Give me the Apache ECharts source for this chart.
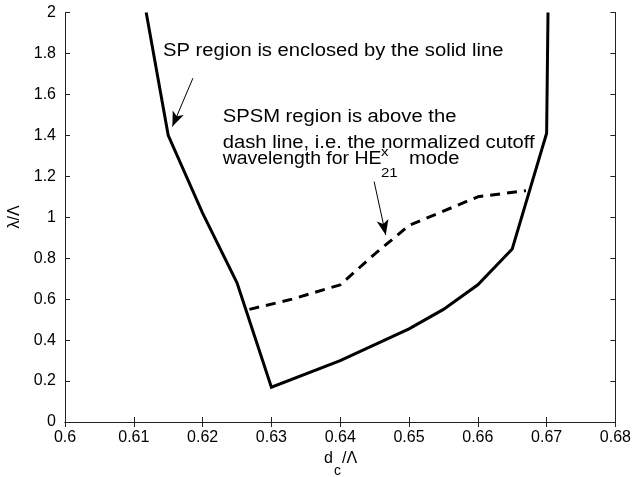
<!DOCTYPE html>
<html>
<head>
<meta charset="utf-8">
<script src="https://cdn.jsdelivr.net/npm/echarts@6/dist/echarts.min.js"></script>
<style>html,body{margin:0;padding:0;background:#fff;}#c{width:634px;height:477px;}</style>
</head>
<body>
<div id="c"></div>
<script>
// ---- data ----
const spX = [0.6118, 0.615, 0.62, 0.625, 0.63, 0.64, 0.65, 0.655, 0.66, 0.665, 0.67, 0.6702];
const spY = [2.0, 1.4, 1.02, 0.68, 0.17, 0.30, 0.455, 0.55, 0.67, 0.845, 1.41, 2.0];
const spsmX = [0.6268, 0.633, 0.64, 0.645, 0.65, 0.655, 0.66, 0.667];
const spsmY = [0.55, 0.60, 0.67, 0.82, 0.96, 1.03, 1.10, 1.13];
const xTicks = [0.6, 0.61, 0.62, 0.63, 0.64, 0.65, 0.66, 0.67, 0.68];
const yTicks = [0, 0.2, 0.4, 0.6, 0.8, 1, 1.2, 1.4, 1.6, 1.8, 2];
// annotation arrows: [fromX, fromY, toX, toY] in data units
const arrow1 = [0.61859, 1.679, 0.61561, 1.443];
const arrow2 = [0.64493, 1.174, 0.64662, 0.9135];
const note1 = 'SP region is enclosed by the solid line';
const note2 = ['SPSM region is above the', 'dash line, i.e. the normalized cutoff', 'wavelength for HE'];

const FONT = '"Liberation Sans", Arial, Helvetica, sans-serif';
const chart = echarts.init(document.getElementById('c'), null, {renderer: 'canvas'});

const axisCommon = {
  type: 'value',
  axisLine: {show: true, lineStyle: {color: '#222', width: 1}},
  axisTick: {show: true, inside: true, length: 5, lineStyle: {color: '#222', width: 1}},
  splitLine: {show: false}
};

function pairs(xs, ys) { return xs.map((x, i) => [x, ys[i]]); }
function arrowData(a) { return [[{coord: [a[0], a[1]]}, {coord: [a[2], a[3]]}]]; }

const SX = 1.155, FS = 17.5;
function txt(text, x, y, fs, sx) {
  return {
    type: 'text', x: x, y: y, scaleX: sx || SX, z: 100,
    style: {text: text, fontSize: fs, fontFamily: FONT, fill: '#000', align: 'left', verticalAlign: 'middle'}
  };
}

chart.setOption({
  animation: false,
  backgroundColor: '#fff',
  grid: {left: 65, right: 17, top: 12.5, bottom: 55, containLabel: false},
  xAxis: [
    Object.assign({}, axisCommon, {
      position: 'bottom', min: xTicks[0], max: xTicks[xTicks.length - 1], interval: 0.01,
      axisLabel: {show: true, margin: 8, fontSize: 16, color: '#000', fontFamily: FONT,
        formatter: v => String(+(+v).toFixed(2))}
    }),
    Object.assign({}, axisCommon, {
      position: 'top', min: xTicks[0], max: xTicks[xTicks.length - 1], interval: 0.01,
      axisLabel: {show: false}
    })
  ],
  yAxis: [
    Object.assign({}, axisCommon, {
      position: 'left', min: yTicks[0], max: yTicks[yTicks.length - 1], interval: 0.2,
      axisLabel: {show: true, margin: 9, fontSize: 16, color: '#000', fontFamily: FONT,
        formatter: v => String(+(+v).toFixed(1))}
    }),
    Object.assign({}, axisCommon, {
      position: 'right', min: yTicks[0], max: yTicks[yTicks.length - 1], interval: 0.2,
      axisLabel: {show: false}
    })
  ],
  series: [
    {
      type: 'line', name: 'SP', data: pairs(spX, spY), showSymbol: false, symbol: 'none',
      lineStyle: {color: '#000', width: 3, type: 'solid', join: 'miter'}, z: 3,
      markLine: {
        silent: true, symbol: ['none', 'arrow'], symbolSize: [9, 15],
        lineStyle: {color: '#000', width: 1, type: 'solid'}, label: {show: false},
        data: arrowData(arrow1).concat(arrowData(arrow2))
      }
    },
    {
      type: 'line', name: 'SPSM', data: pairs(spsmX, spsmY), showSymbol: false, symbol: 'none',
      lineStyle: {color: '#000', width: 3, type: [10, 7]}, z: 3
    }
  ],
  graphic: [
    txt(note1, 163, 51, FS),
    txt(note2[0], 222.7, 117.5, FS),
    txt(note2[1], 222.7, 142.8, FS),
    txt(note2[2], 222.7, 159.5, FS, 1.11),
    txt('x', 381, 152, 13),
    txt('21', 381, 173, 13),
    txt('mode', 409, 159.5, FS),
    {type: 'text', x: 324, y: 458.5, z: 100, style: {text: 'd', fontSize: 16, fontFamily: FONT, fill: '#000', align: 'left', verticalAlign: 'middle'}},
    {type: 'text', x: 334, y: 471, z: 100, style: {text: 'c', fontSize: 14, fontFamily: FONT, fill: '#000', align: 'left', verticalAlign: 'middle'}},
    {type: 'text', x: 342, y: 458.5, z: 100, style: {text: '/Λ', fontSize: 16, fontFamily: FONT, fill: '#000', align: 'left', verticalAlign: 'middle'}},
    {type: 'text', x: 15, y: 217, rotation: Math.PI / 2, z: 100, style: {text: 'λ/Λ', fontSize: 16, fontFamily: FONT, fill: '#000', align: 'center', verticalAlign: 'middle'}}
  ]
});
</script>
</body>
</html>
